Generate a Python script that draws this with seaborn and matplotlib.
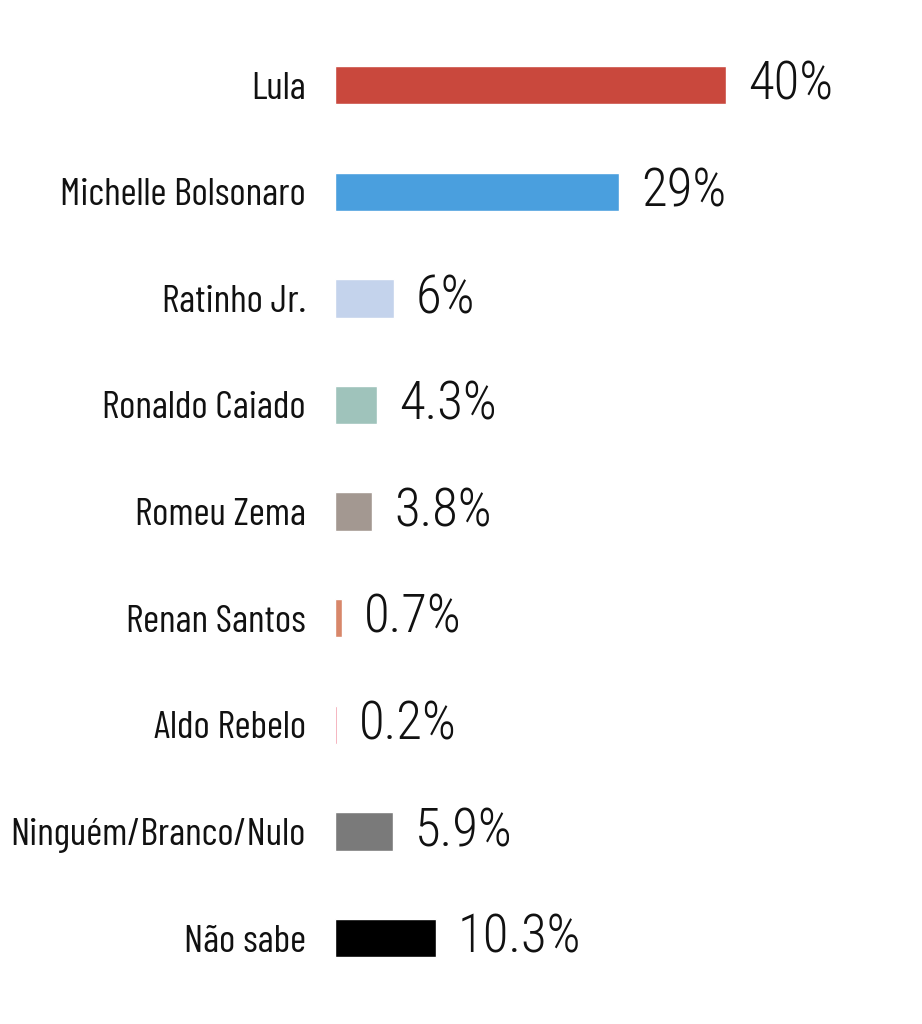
import matplotlib
matplotlib.use("Agg")
import matplotlib.pyplot as plt
import seaborn as sns
import pandas as pd

# Data
candidates = ["Lula", "Michelle Bolsonaro", "Ratinho Jr.", "Ronaldo Caiado", "Romeu Zema",
              "Renan Santos", "Aldo Rebelo", "Ninguém/Branco/Nulo", "Não sabe"]
values = [40, 29, 6, 4.3, 3.8, 0.7, 0.2, 5.9, 10.3]
value_labels = ["40%", "29%", "6%", "4.3%", "3.8%", "0.7%", "0.2%", "5.9%", "10.3%"]
colors = ["#c9483d", "#4a9fde", "#c4d3ec", "#9fc3bb", "#a39891",
          "#d8876a", "#f0899a", "#7a7a7a", "#000000"]

df = pd.DataFrame({"candidate": candidates, "value": values})

sns.set_style("white")
plt.rcParams["font.family"] = ["Barlow Condensed", "DejaVu Sans"]

fig = plt.figure(figsize=(9.22, 10.24), dpi=100)
ax = fig.add_axes([0.3633, 0.0319, 0.6367, 0.937])

sns.barplot(data=df, x="value", y="candidate", hue="candidate", palette=colors,
            saturation=1, legend=False, width=0.36, ax=ax, orient="h")

ax.set_xlim(0, 60)
ax.set_ylim(8.5, -0.5)
ax.set_xlabel("")
ax.set_ylabel("")
ax.set_xticks([])
ax.tick_params(axis="y", length=0, pad=21, labelsize=28, labelcolor="#111111")
for lbl in ax.get_yticklabels():
    lbl.set_fontweight(400)
for s in ax.spines.values():
    s.set_visible(False)

# value labels in a lighter condensed face
for i, (v, lab) in enumerate(zip(values, value_labels)):
    ax.annotate(lab, xy=(v, i), xytext=(16, 0), textcoords="offset points",
                va="center", ha="left", fontsize=38, fontweight=300,
                family=["Roboto Condensed", "DejaVu Sans"], color="#111111")

fig.savefig("out.png", dpi=100)
